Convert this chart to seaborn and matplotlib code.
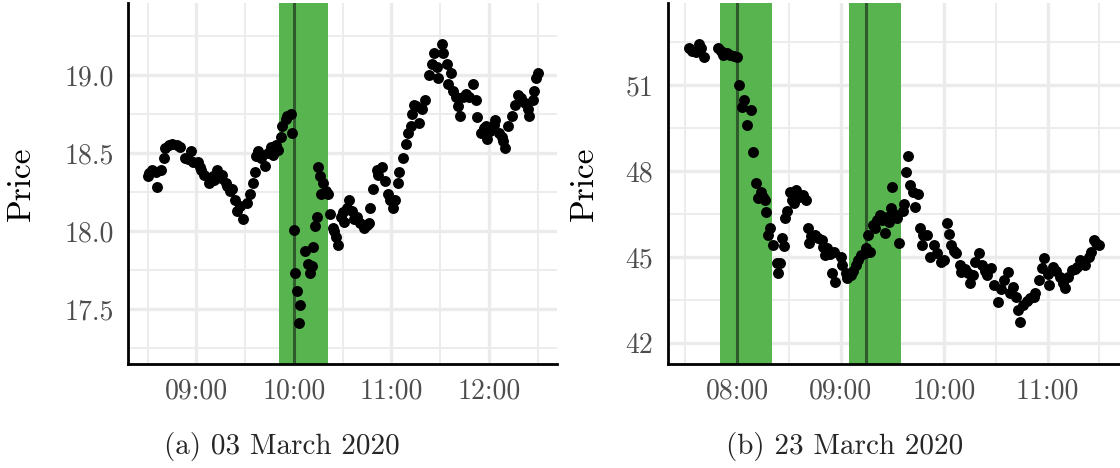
import pandas as pd
import numpy as np
import seaborn as sns
import matplotlib.pyplot as plt
import matplotlib.dates as mdates
from matplotlib.ticker import MultipleLocator, FormatStrFormatter

# ---- panel (a): 03 March 2020 ----
day_a = "2020-03-03"
times_a = ["08:30", "08:31", "08:33", "08:35", "08:36", "08:38", "08:40", "08:41", "08:43", "08:45",
           "08:48", "08:50", "08:53", "08:55", "08:57", "08:58", "09:01", "09:02", "09:03", "09:05",
           "09:08", "09:10", "09:11", "09:13", "09:15", "09:16", "09:18", "09:19", "09:21", "09:22",
           "09:24", "09:25", "09:27", "09:29", "09:31", "09:33", "09:35", "09:36", "09:37", "09:38",
           "09:40", "09:42", "09:44", "09:46", "09:47", "09:49", "09:50", "09:52", "09:53", "09:55",
           "09:56", "09:58", "09:59", "10:00", "10:01", "10:02", "10:03", "10:04", "10:07", "10:09",
           "10:10", "10:11", "10:12", "10:13", "10:14", "10:15", "10:16", "10:17", "10:18", "10:20",
           "10:21", "10:22", "10:24", "10:25", "10:26", "10:27", "10:29", "10:30", "10:31", "10:33",
           "10:34", "10:36", "10:37", "10:39", "10:41", "10:43", "10:45", "10:46", "10:47", "10:49",
           "10:51", "10:52", "10:54", "10:56", "10:58", "10:59", "11:01", "11:02", "11:04", "11:05",
           "11:07", "11:09", "11:10", "11:12", "11:13", "11:14", "11:15", "11:17", "11:19", "11:21",
           "11:23", "11:25", "11:26", "11:28", "11:29", "11:31", "11:32", "11:34", "11:35", "11:37",
           "11:38", "11:40", "11:41", "11:42", "11:44", "11:46", "11:48", "11:50", "11:52", "11:53",
           "11:55", "11:57", "11:58", "11:59", "12:01", "12:03", "12:04", "12:06", "12:08", "12:09",
           "12:10", "12:12", "12:14", "12:16", "12:18", "12:20", "12:22", "12:24", "12:25", "12:27",
           "12:28", "12:29", "12:30"]
price_a = [18.35, 18.37, 18.39, 18.38, 18.28, 18.39, 18.47, 18.53, 18.55, 18.56,
           18.55, 18.54, 18.47, 18.46, 18.51, 18.44, 18.44, 18.41, 18.39, 18.36,
           18.31, 18.35, 18.33, 18.39, 18.34, 18.36, 18.31, 18.29, 18.26, 18.27,
           18.20, 18.13, 18.16, 18.08, 18.18, 18.24, 18.31, 18.38, 18.48, 18.51,
           18.47, 18.42, 18.50, 18.54, 18.49, 18.55, 18.52, 18.60, 18.67, 18.72,
           18.74, 18.75, 18.63, 18.01, 17.73, 17.62, 17.41, 17.53, 17.87, 17.79,
           17.73, 17.78, 17.90, 18.03, 18.09, 18.41, 18.35, 18.24, 18.31, 18.26,
           18.24, 18.11, 18.02, 18.00, 17.96, 17.91, 18.09, 18.12, 18.06, 18.15,
           18.20, 18.13, 18.08, 18.09, 18.05, 18.02, 18.04, 18.05, 18.15, 18.27,
           18.39, 18.36, 18.41, 18.32, 18.24, 18.20, 18.15, 18.20, 18.31, 18.38,
           18.47, 18.56, 18.63, 18.67, 18.75, 18.81, 18.80, 18.69, 18.78, 18.84,
           19.00, 19.07, 19.14, 19.05, 18.98, 19.20, 19.14, 19.07, 18.94, 19.01,
           18.90, 18.86, 18.80, 18.74, 18.86, 18.88, 18.86, 18.94, 18.84, 18.73,
           18.63, 18.66, 18.67, 18.59, 18.64, 18.68, 18.71, 18.63, 18.60, 18.58,
           18.53, 18.67, 18.74, 18.81, 18.87, 18.85, 18.82, 18.78, 18.74, 18.84,
           18.90, 18.98, 19.01]
events_a = ["10:00"]
bands_a = [("09:51", "10:21")]

# ---- panel (b): 23 March 2020 ----
day_b = "2020-03-23"
times_b = ["07:32", "07:34", "07:36", "07:38", "07:39", "07:41", "07:49", "07:51", "07:52", "07:54",
           "07:56", "07:58", "08:00", "08:01", "08:03", "08:04", "08:06", "08:08", "08:09", "08:11",
           "08:12", "08:14", "08:15", "08:16", "08:17", "08:18", "08:19", "08:21", "08:23", "08:24",
           "08:25", "08:26", "08:27", "08:28", "08:29", "08:31", "08:32", "08:33", "08:34", "08:36",
           "08:38", "08:40", "08:41", "08:42", "08:43", "08:45", "08:47", "08:49", "08:50", "08:51",
           "08:52", "08:54", "08:55", "08:56", "08:57", "09:00", "09:01", "09:03", "09:04", "09:06",
           "09:07", "09:09", "09:10", "09:12", "09:14", "09:15", "09:16", "09:17", "09:19", "09:20",
           "09:21", "09:23", "09:24", "09:26", "09:27", "09:28", "09:29", "09:30", "09:31", "09:33",
           "09:34", "09:36", "09:37", "09:38", "09:39", "09:40", "09:42", "09:43", "09:45", "09:46",
           "09:47", "09:48", "09:50", "09:52", "09:54", "09:56", "09:58", "10:00", "10:02", "10:03",
           "10:04", "10:06", "10:07", "10:09", "10:10", "10:12", "10:14", "10:15", "10:17", "10:18",
           "10:20", "10:22", "10:24", "10:25", "10:27", "10:29", "10:31", "10:33", "10:35", "10:37",
           "10:38", "10:40", "10:42", "10:43", "10:44", "10:46", "10:48", "10:50", "10:52", "10:53",
           "10:55", "10:57", "10:58", "11:00", "11:01", "11:03", "11:05", "11:07", "11:09", "11:10",
           "11:12", "11:14", "11:16", "11:17", "11:19", "11:21", "11:22", "11:24", "11:25", "11:27",
           "11:28", "11:30"]
price_b = [52.28, 52.20, 52.16, 52.42, 52.30, 51.99, 52.28, 52.20, 52.05, 52.10,
           52.05, 52.02, 51.99, 51.00, 50.24, 50.48, 49.60, 50.13, 48.67, 47.57,
           47.05, 47.28, 47.10, 46.99, 46.58, 45.77, 46.00, 45.42, 44.78, 44.43,
           44.80, 45.65, 45.40, 46.35, 46.60, 47.28, 47.00, 46.90, 47.34, 47.10,
           47.16, 46.99, 46.00, 45.48, 45.75, 45.77, 45.65, 45.59, 45.35, 45.07,
           45.30, 45.10, 44.43, 45.19, 44.14, 45.01, 44.72, 44.45, 44.26, 44.37,
           44.50, 44.72, 44.90, 45.07, 45.15, 45.30, 45.77, 45.19, 46.12, 46.00,
           46.30, 46.47, 46.30, 45.83, 46.40, 46.23, 46.70, 47.45, 46.50, 46.35,
           45.48, 46.60, 46.84, 47.98, 48.53, 47.51, 47.28, 46.76, 47.19, 46.02,
           45.42, 45.77, 45.77, 45.01, 45.42, 45.13, 44.84, 44.90, 46.18, 45.79,
           45.42, 45.20, 45.13, 44.72, 44.49, 44.60, 44.43, 44.08, 44.37, 44.84,
           45.13, 44.72, 44.50, 44.37, 44.61, 44.02, 43.44, 43.90, 44.20, 44.49,
           43.73, 43.96, 43.60, 43.15, 42.74, 43.33, 43.45, 43.56, 43.60, 43.73,
           44.20, 44.61, 44.96, 44.40, 44.02, 44.66, 44.50, 44.31, 44.10, 43.91,
           44.30, 44.55, 44.60, 44.66, 44.90, 44.80, 44.72, 45.00, 45.19, 45.59,
           45.50, 45.42]
events_b = ["08:00", "09:15"]
bands_b = [("07:50", "08:20"), ("09:05", "09:35")]

W, H = 1120, 468
sns.set_style("white")
plt.rcParams["font.family"] = ["cmr10", "DejaVu Serif"]
plt.rcParams["axes.formatter.use_mathtext"] = True

fig = plt.figure(figsize=(W / 100, H / 100), dpi=100)
ax_a = fig.add_axes([128 / W, 104 / H, 429 / W, 361 / H])
ax_b = fig.add_axes([668 / W, 104 / H, 452 / W, 361 / H])


def ts(day, hhmm):
    return pd.Timestamp(day + " " + hhmm)


def panel(ax, day, times, prices, events, bands, xlim, ylim, ystep, yfmt, label_x):
    df = pd.DataFrame({"time": [ts(day, t) for t in times], "price": prices})
    ax.set_axisbelow(True)
    for start, end in bands:
        ax.axvspan(ts(day, start), ts(day, end), color="#58b44f", lw=0, zorder=1)
    for ev in events:
        ax.axvline(ts(day, ev), color="#2f5a2c", lw=2.2, zorder=2)
    sns.scatterplot(data=df, x="time", y="price", ax=ax, color="black",
                    s=62, linewidth=0, zorder=3, legend=False)

    ax.set_xlim(ts(day, xlim[0]), ts(day, xlim[1]))
    ax.set_ylim(*ylim)
    ax.xaxis.set_major_locator(mdates.HourLocator())
    ax.xaxis.set_minor_locator(mdates.MinuteLocator(byminute=30))
    ax.xaxis.set_major_formatter(mdates.DateFormatter("%H:%M"))
    ax.yaxis.set_major_locator(MultipleLocator(ystep))
    ax.yaxis.set_minor_locator(MultipleLocator(ystep / 2))
    ax.yaxis.set_major_formatter(FormatStrFormatter(yfmt))

    ax.grid(which="major", color="#ebebeb", lw=2.4)
    ax.grid(which="minor", color="#ebebeb", lw=1.3)
    for side in ["top", "right"]:
        ax.spines[side].set_visible(False)
    for side in ["left", "bottom"]:
        ax.spines[side].set_color("black")
        ax.spines[side].set_linewidth(2.0)
    ax.tick_params(which="major", length=6.5, width=1.6, color="#333333",
                   labelcolor="#4d4d4d", labelsize=20, pad=4)
    ax.tick_params(which="minor", length=0)
    ax.set_xlabel("")
    ax.set_ylabel("Price", fontsize=24, color="black")
    ax.yaxis.set_label_coords(label_x, 0.5)


panel(ax_a, day_a, times_a, price_a, events_a, bands_a,
      ("08:18", "12:42"), (17.15, 19.46), 0.5, "%.1f", -0.215)
panel(ax_b, day_b, times_b, price_b, events_b, bands_b,
      ("07:20", "11:42"), (41.27, 53.86), 3, "%.0f", -0.152)

fig.text(0.252, 0.045, "(a) 03 March 2020", ha="center", va="center", fontsize=21)
fig.text(0.754, 0.045, "(b) 23 March 2020", ha="center", va="center", fontsize=21)

fig.savefig("out.png", dpi=100)
